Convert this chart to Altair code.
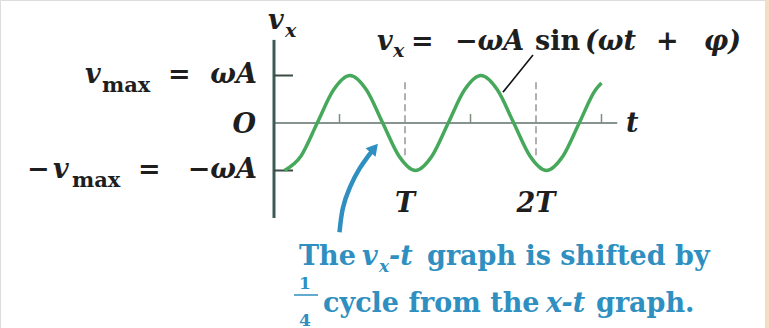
import altair as alt
import pandas as pd

# Velocity curve v_x(t): t in periods T, v in units of v_max (values read at eighth-period steps)
curve_t = [0.08, 0.205, 0.33, 0.455, 0.58, 0.705, 0.83, 0.955, 1.08, 1.205, 1.33,
           1.455, 1.58, 1.705, 1.83, 1.955, 2.08, 2.205, 2.33, 2.455, 2.50]
curve_v = [-1.0, -0.7, 0.0, 0.7, 1.0, 0.7, 0.0, -0.7, -1.0, -0.7, 0.0,
           0.7, 1.0, 0.7, 0.0, -0.7, -1.0, -0.7, 0.0, 0.7, 0.84]

# Period marks (dashed guides) and half-period ticks on the t axis
period_t = [1, 2]
period_labels = ["T", "2T"]
half_ticks = [0.5, 1.5, 2.5]

W, H = 769, 328
# origin of the graph and pixels per unit
X0, PX_T = 274, 131
Y0, PX_V = 123, 47.5
xdom = [-X0 / PX_T, (W - X0) / PX_T]
ydom = [-(H - Y0) / PX_V, Y0 / PX_V]

xs = alt.Scale(domain=xdom, range=[0, W], nice=False, zero=False)
ys = alt.Scale(domain=ydom, range=[H, 0], nice=False, zero=False)


def X(f="t"):
    return alt.X(f"{f}:Q", scale=xs, axis=None)


def Y(f="v"):
    return alt.Y(f"{f}:Q", scale=ys, axis=None)


SERIF = "DejaVu Serif"
GREEN = "#46a85a"
BLUE = "#2e8fc0"
INK = "#1e1e1e"

curve = pd.DataFrame({"t": curve_t, "v": curve_v})
line = alt.Chart(curve).mark_line(
    interpolate="monotone", color=GREEN, strokeWidth=3.5
).encode(x=X(), y=Y())

# axes drawn as rules
vaxis = alt.Chart(pd.DataFrame({"t": [0], "v": [-2.0], "v2": [1.75]})).mark_rule(
    color="#3b5b55", strokeWidth=3
).encode(x=X(), y=Y(), y2="v2:Q")
haxis = alt.Chart(pd.DataFrame({"t": [0], "t2": [2.62], "v": [0]})).mark_rule(
    color="#5f6f68", strokeWidth=1.5
).encode(x=X(), x2="t2:Q", y=Y())
vticks = alt.Chart(pd.DataFrame({"t": [0, 0], "t2": [0.145, 0.145], "v": [1, -1]})).mark_rule(
    color="#3b4b45", strokeWidth=2
).encode(x=X(), x2="t2:Q", y=Y())
hticks = alt.Chart(pd.DataFrame({"t": half_ticks, "v": [0] * 3, "v2": [0.19] * 3})).mark_rule(
    color="#7a8f80", strokeWidth=1.5
).encode(x=X(), y=Y(), y2="v2:Q")
dashes = alt.Chart(pd.DataFrame({"t": period_t, "v": [0.86] * 2, "v2": [-0.72] * 2})).mark_rule(
    color="#b0b0b0", strokeWidth=2, strokeDash=[7, 4]
).encode(x=X(), y=Y(), y2="v2:Q")

# leader line from the equation to the curve
leader = alt.Chart(pd.DataFrame({"t": [1.977], "v": [1.43], "t2": [1.748], "v2": [0.65]})).mark_rule(
    color="#111111", strokeWidth=1.6
).encode(x=X(), y=Y(), x2="t2:Q", y2="v2:Q")

# curved blue arrow pointing at the curve
arrow_path = pd.DataFrame({
    "t": [0.50, 0.525, 0.58, 0.655, 0.745],
    "v": [-2.30, -1.80, -1.35, -0.95, -0.60],
    "o": [0, 1, 2, 3, 4],
})
arrow = alt.Chart(arrow_path).mark_line(
    color=BLUE, strokeWidth=4.5, interpolate="natural"
).encode(x=X(), y=Y(), order="o:Q")
arrow_head = alt.Chart(pd.DataFrame({"t": [0.765], "v": [-0.53]})).mark_point(
    shape="triangle-up", filled=True, color=BLUE, size=170, angle=40, opacity=1
).encode(x=X(), y=Y())


def px(x, y, s):
    return {"t": (x - X0) / PX_T, "v": (Y0 - y) / PX_V, "s": s}


def text(rows, size, style="normal", align="left", color=INK):
    return alt.Chart(pd.DataFrame(rows)).mark_text(
        font=SERIF, fontSize=size, fontStyle=style, fontWeight="bold",
        align=align, baseline="alphabetic", color=color
    ).encode(x=X(), y=Y(), text="s:N")


# axis labels
labels = [
    text([px(268, 29, "v"), px(626, 132, "t"), px(85, 83, "v"), px(53, 178, "v")], 27, "italic"),
    text([px(256, 133, "O"), px(257, 83, "ωA"), px(257, 178, "−ωA")], 27, "italic", "right"),
    text([px(285, 37, "x")], 19, "italic"),
    text([px(102, 92, "max"), px(72, 187, "max")], 21),
    text([px(168, 83, "="), px(138, 178, "="), px(27, 178, "−")], 27),
    text([{"t": t, "v": (Y0 - 212) / PX_V, "s": s} for t, s in zip(period_t, period_labels)],
         27, "italic", "center"),
]

# equation with its leader line
equation = [
    text([px(377, 50, "v"), px(455, 50, "−ωA")], 27, "italic"),
    text([px(393, 57, "x")], 19, "italic"),
    text([px(411, 50, "="), px(535, 50, "sin"), px(656, 50, "+")], 27),
    text([px(585, 50, "(ωt")], 27, "italic"),
    text([px(741, 50, "φ)")], 27, "italic", "right"),
]

# caption
caption = [
    text([px(299, 265, "The"), px(427, 265, "graph is shifted by"),
          px(323, 312, "cycle from the"), px(596, 312, "graph.")], 27, color=BLUE),
    text([px(362, 265, "v"), px(389, 265, "-t"), px(546, 312, "x-t")], 27, "italic", color=BLUE),
    text([px(379, 272, "x")], 17, "italic", color=BLUE),
    text([px(305, 289, "1"), px(305, 326, "4")], 17, align="center", color=BLUE),
]
frac_bar = alt.Chart(pd.DataFrame([{"t": (294 - X0) / PX_T, "t2": (318 - X0) / PX_T,
                                    "v": (Y0 - 295) / PX_V}])).mark_rule(
    color=BLUE, strokeWidth=1.5
).encode(x=X(), x2="t2:Q", y=Y())

border = alt.Chart(pd.DataFrame({"a": [0]})).mark_rect(color="#f6dcc3").encode(
    x=alt.value(765), x2=alt.value(769), y=alt.value(0), y2=alt.value(H)
)

chart = alt.layer(
    border, dashes, haxis, hticks, vaxis, vticks, line, leader, arrow, arrow_head,
    *labels, *equation, *caption, frac_bar,
).properties(
    width=W, height=H, padding=0, autosize=alt.AutoSizeParams(type="none")
).configure_view(stroke=None).configure(background="white")

chart.save("out.html", embed_options={"renderer": "svg", "actions": False})
